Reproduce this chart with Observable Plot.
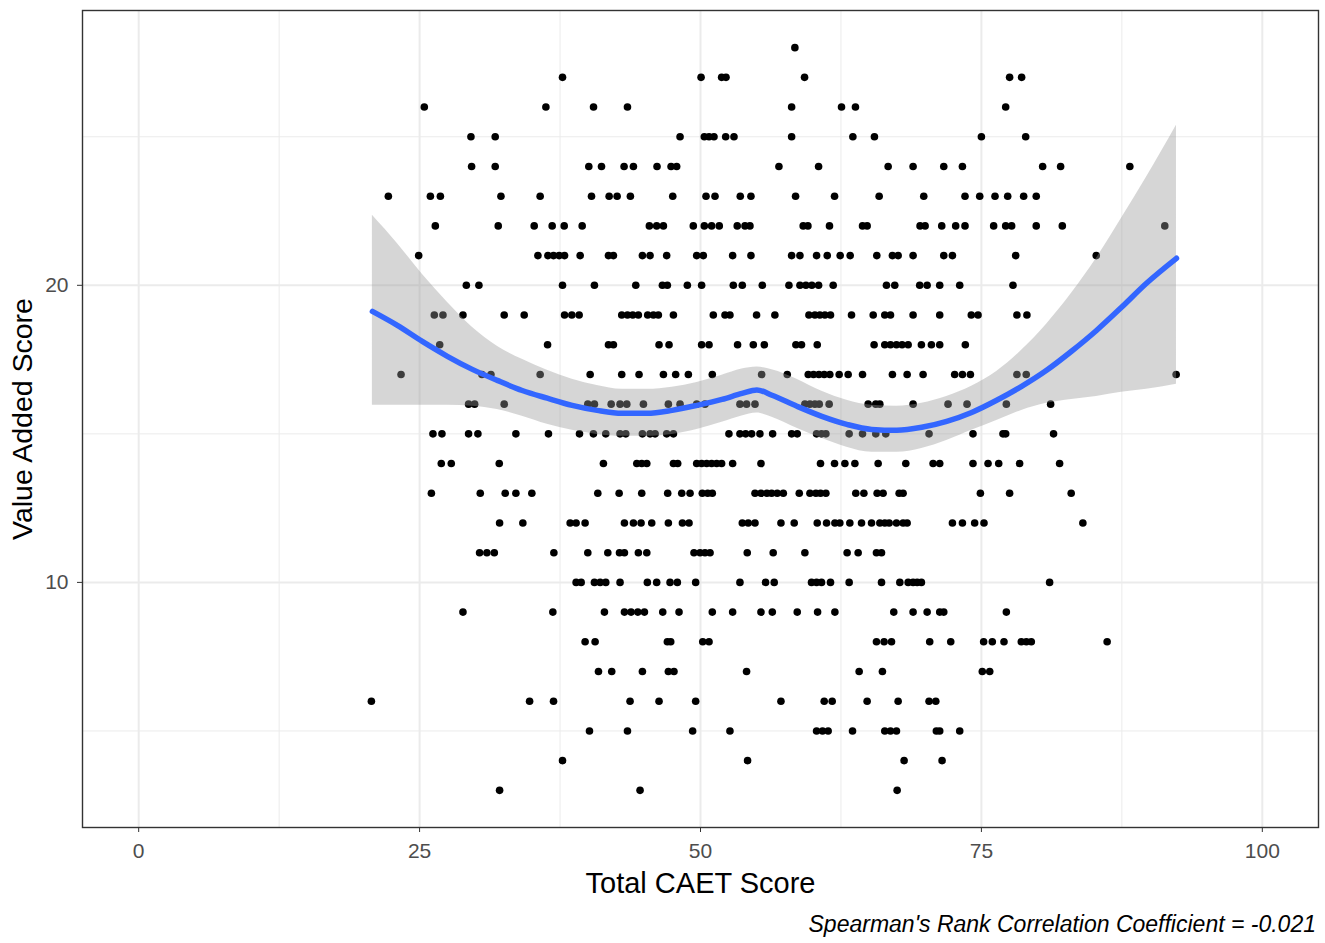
<!DOCTYPE html>
<html><head><meta charset="utf-8">
<script src="https://cdn.jsdelivr.net/npm/d3@7"></script>
<script src="https://cdn.jsdelivr.net/npm/@observablehq/plot@0.6"></script>
<style>
body{margin:0;background:#fff;font-family:"Liberation Sans",Arial,sans-serif;}
#chart svg{display:block;}
#cap{width:1325px;box-sizing:border-box;padding-right:9px;text-align:right;font-style:italic;font-size:23px;line-height:26px;color:#000;margin-top:6px;font-family:"Liberation Sans",Arial,sans-serif;}
</style></head>
<body><div id="chart"></div><div id="cap">Spearman's Rank Correlation Coefficient = -0.021</div>
<script>
// Value Added Score levels and the Total CAET Scores observed at each level
const valueAddedLevels = [28,27,26,25,24,23,22,21,20,19,18,17,16,15,14,13,12,11,10,9,8,7,6,5,4,3];
const caetAtLevel = [
  [58.4],
  [37.72,50.05,51.88,52.27,59.26,77.51,78.58],
  [25.42,36.24,40.48,43.5,58.11,62.55,63.79,77.16],
  [29.57,31.73,48.18,50.34,50.76,51.2,52.24,52.98,58.11,63.56,65.48,75.0,78.94],
  [29.63,31.73,40.06,41.19,43.2,44.03,46.13,47.38,47.88,56.98,60.51,66.7,68.92,71.65,73.31,80.45,82.05,88.21],
  [22.22,25.96,26.85,32.24,35.73,40.3,41.87,42.58,43.76,47.53,50.49,51.29,53.54,54.49,58.46,61.93,65.9,69.87,73.54,74.85,76.21,77.34,78.76,79.88],
  [26.4,32.0,35.2,36.8,37.87,39.47,45.45,46.1,46.7,49.36,50.34,50.99,51.67,53.27,53.96,54.4,59.14,59.56,61.48,64.42,64.83,69.54,69.99,71.47,72.71,73.54,76.09,77.16,77.69,79.88,82.2,91.32],
  [24.92,35.53,36.42,36.92,37.42,37.9,39.29,41.81,42.25,44.83,45.51,46.99,49.66,50.25,52.86,54.49,58.11,58.85,60.33,61.28,62.43,63.32,65.69,67.08,67.59,68.92,71.65,72.42,78.05,85.22],
  [29.16,30.28,37.72,40.56,44.24,46.61,47.05,48.83,50.1,52.92,53.72,55.5,57.87,58.85,59.38,59.91,60.51,61.81,66.55,67.29,69.51,70.17,71.29,73.07,77.81],
  [26.31,27.08,28.86,32.53,34.31,37.9,38.55,39.2,42.99,43.5,43.97,44.47,45.3,45.81,46.25,47.59,51.14,52.18,52.62,54.99,56.62,59.65,60.18,60.62,61.07,61.57,63.44,65.37,66.4,66.91,68.92,71.29,74.1,74.7,78.16,79.05],
  [26.79,36.39,41.81,42.25,46.31,47.2,50.1,50.76,53.3,54.7,55.68,58.49,58.99,60.39,65.45,66.4,66.91,67.44,67.94,68.48,69.66,70.55,71.29,73.57],
  [23.35,30.55,31.35,35.73,40.18,42.99,44.53,46.7,47.79,48.92,51.05,55.44,57.72,59.59,60.06,60.54,61.01,61.51,62.34,63.14,64.42,67.08,68.39,69.81,72.62,73.31,74.02,78.16,78.99,92.33],
  [29.36,29.9,32.53,39.97,40.56,42.05,42.84,43.44,44.92,47.14,48.18,49.66,50.4,53.51,54.1,54.85,59.29,59.74,60.18,60.57,61.45,64.92,65.6,65.96,68.92,72.03,73.72,77.22,81.16],
  [26.19,26.99,29.36,30.19,33.57,36.47,39.23,40.47,41.57,42.84,43.35,44.83,45.51,45.96,46.99,47.59,52.53,53.51,54.02,54.55,55.29,56.42,58.11,58.61,60.33,60.77,61.16,63.23,64.42,65.6,66.49,70.34,74.25,76.92,77.16,81.42],
  [26.93,27.82,32.09,41.36,44.33,44.77,45.22,47.59,47.97,49.66,50.1,50.55,50.99,51.44,51.88,52.86,55.38,60.68,61.93,62.85,63.74,65.81,68.27,70.7,71.29,74.25,75.59,76.54,78.4,81.96],
  [26.05,30.4,32.62,33.57,34.99,40.86,42.76,44.77,47.08,48.33,49.07,50.16,50.64,51.05,54.85,55.38,55.91,56.33,56.83,57.37,58.79,59.74,60.27,60.68,61.16,63.82,64.54,65.72,66.25,67.68,68.03,74.91,77.51,82.99],
  [32.12,34.19,38.4,38.93,39.73,43.23,44.03,44.71,45.66,47.14,48.39,48.98,53.72,54.25,54.85,57.16,58.34,60.39,61.22,61.96,62.4,63.29,64.33,65.22,65.96,66.4,66.79,67.44,68.03,68.39,72.42,73.31,74.4,75.23,84.03],
  [30.34,30.99,31.65,36.95,39.97,41.75,42.79,43.23,44.47,45.22,49.42,49.96,50.4,50.85,54.16,56.47,59.29,63.05,64.03,65.66,66.11],
  [38.93,39.38,40.56,41.07,41.57,42.84,45.27,46.1,47.29,47.94,49.57,53.51,55.79,56.56,59.88,60.33,60.77,61.57,63.23,66.11,67.74,68.48,68.92,69.28,69.66,81.07],
  [28.86,36.86,41.45,43.23,43.82,44.42,45.01,46.64,48.09,51.05,52.86,55.38,56.39,58.61,60.42,61.96,67.2,68.92,70.17,71.29,71.65,77.22],
  [39.73,40.62,47.05,47.35,50.2,50.76,65.66,66.34,67.0,70.4,72.27,75.2,75.97,77.01,78.55,79.0,79.44,86.19],
  [40.92,42.1,44.83,47.14,47.64,54.1,64.12,66.19,75.08,75.74],
  [20.71,34.79,36.92,43.73,46.31,49.57,57.16,61.01,61.72,64.83,67.59,70.34,70.94],
  [40.12,43.5,49.3,52.62,60.33,60.86,61.36,63.53,66.4,66.91,67.44,70.99,71.29,73.07],
  [37.72,54.19,68.12,71.5],
  [32.12,44.62,67.5]
];

// loess smooth (fit and 95% band)
const smoothX   = [20.8,23.02,25.24,27.47,29.69,31.91,34.13,36.36,38.58,40.8,43.02,45.24,47.47,49.69,51.91,53.69,55.02,56.36,58.58,60.8,63.02,65.24,67.47,69.69,71.91,74.13,76.36,78.58,80.8,83.02,85.24,87.47,89.69,92.36];
const smoothFit = [19.12,18.65,18.11,17.61,17.17,16.8,16.46,16.2,15.96,15.79,15.69,15.69,15.79,15.96,16.16,16.36,16.48,16.3,15.93,15.59,15.32,15.15,15.12,15.22,15.42,15.72,16.13,16.6,17.14,17.78,18.48,19.26,20.07,20.91];
const smoothHi  = [22.36,21.41,20.37,19.43,18.59,17.95,17.51,17.14,16.84,16.63,16.5,16.5,16.57,16.73,16.97,17.18,17.25,17.16,16.84,16.43,16.13,15.96,15.93,16.03,16.26,16.6,17.1,17.81,18.69,19.73,20.91,22.26,23.64,25.39];
const smoothLo  = [15.96,15.96,15.96,15.96,15.93,15.82,15.59,15.32,15.12,14.98,14.92,14.92,14.98,15.15,15.39,15.6,15.7,15.56,15.19,14.85,14.55,14.38,14.38,14.51,14.78,15.12,15.45,15.79,16.03,16.16,16.26,16.4,16.5,16.67];

const xMajor = [0, 25, 50, 75, 100];
const xMinor = [12.5, 37.5, 62.5, 87.5];
const yMajor = [10, 20];
const yMinor = [5, 15, 25];

const points = [];
valueAddedLevels.forEach((v, i) => caetAtLevel[i].forEach(c => points.push({caet: c, va: v})));
const smooth = smoothX.map((x, i) => ({x, fit: smoothFit[i], lo: smoothLo[i], hi: smoothHi[i]}));

const chart = Plot.plot({
  width: 1325, height: 905,
  marginLeft: 82, marginRight: 7, marginTop: 10, marginBottom: 78,
  style: {fontFamily: "'Liberation Sans', Arial, sans-serif", background: "#fff"},
  x: {domain: [-5, 105]},
  y: {domain: [1.75, 29.25]},
  marks: [
    Plot.ruleX(xMinor, {stroke: "#ebebeb", strokeWidth: 1}),
    Plot.ruleY(yMinor, {stroke: "#ebebeb", strokeWidth: 1}),
    Plot.ruleX(xMajor, {stroke: "#ebebeb", strokeWidth: 2}),
    Plot.ruleY(yMajor, {stroke: "#ebebeb", strokeWidth: 2}),
    Plot.dot(points, {x: "caet", y: "va", r: 3.8, fill: "#000", stroke: null}),
    Plot.areaY(smooth, {x: "x", y1: "lo", y2: "hi", fill: "#999999", fillOpacity: 0.4, curve: "monotone-x"}),
    Plot.line(smooth, {x: "x", y: "fit", stroke: "#3366FF", strokeWidth: 5.5, curve: "monotone-x"}),
    Plot.frame({stroke: "#333333", strokeWidth: 1.4}),
    Plot.axisX(xMajor, {tickSize: 5, tickPadding: 11, stroke: "#333333", fill: "#4d4d4d", fontSize: 21, label: null}),
    Plot.axisY(yMajor, {tickSize: 5, tickPadding: 9, stroke: "#333333", fill: "#4d4d4d", fontSize: 21, label: null}),
    Plot.text(["Total CAET Score"], {frameAnchor: "bottom", dy: 56, fontSize: 29, fill: "#000", lineAnchor: "middle", textAnchor: "middle"}),
    Plot.text(["Value Added Score"], {frameAnchor: "left", dx: -60, rotate: -90, fontSize: 28.5, fill: "#000", lineAnchor: "middle", textAnchor: "middle"})
  ]
});
document.getElementById("chart").appendChild(chart);
</script>
</body></html>
